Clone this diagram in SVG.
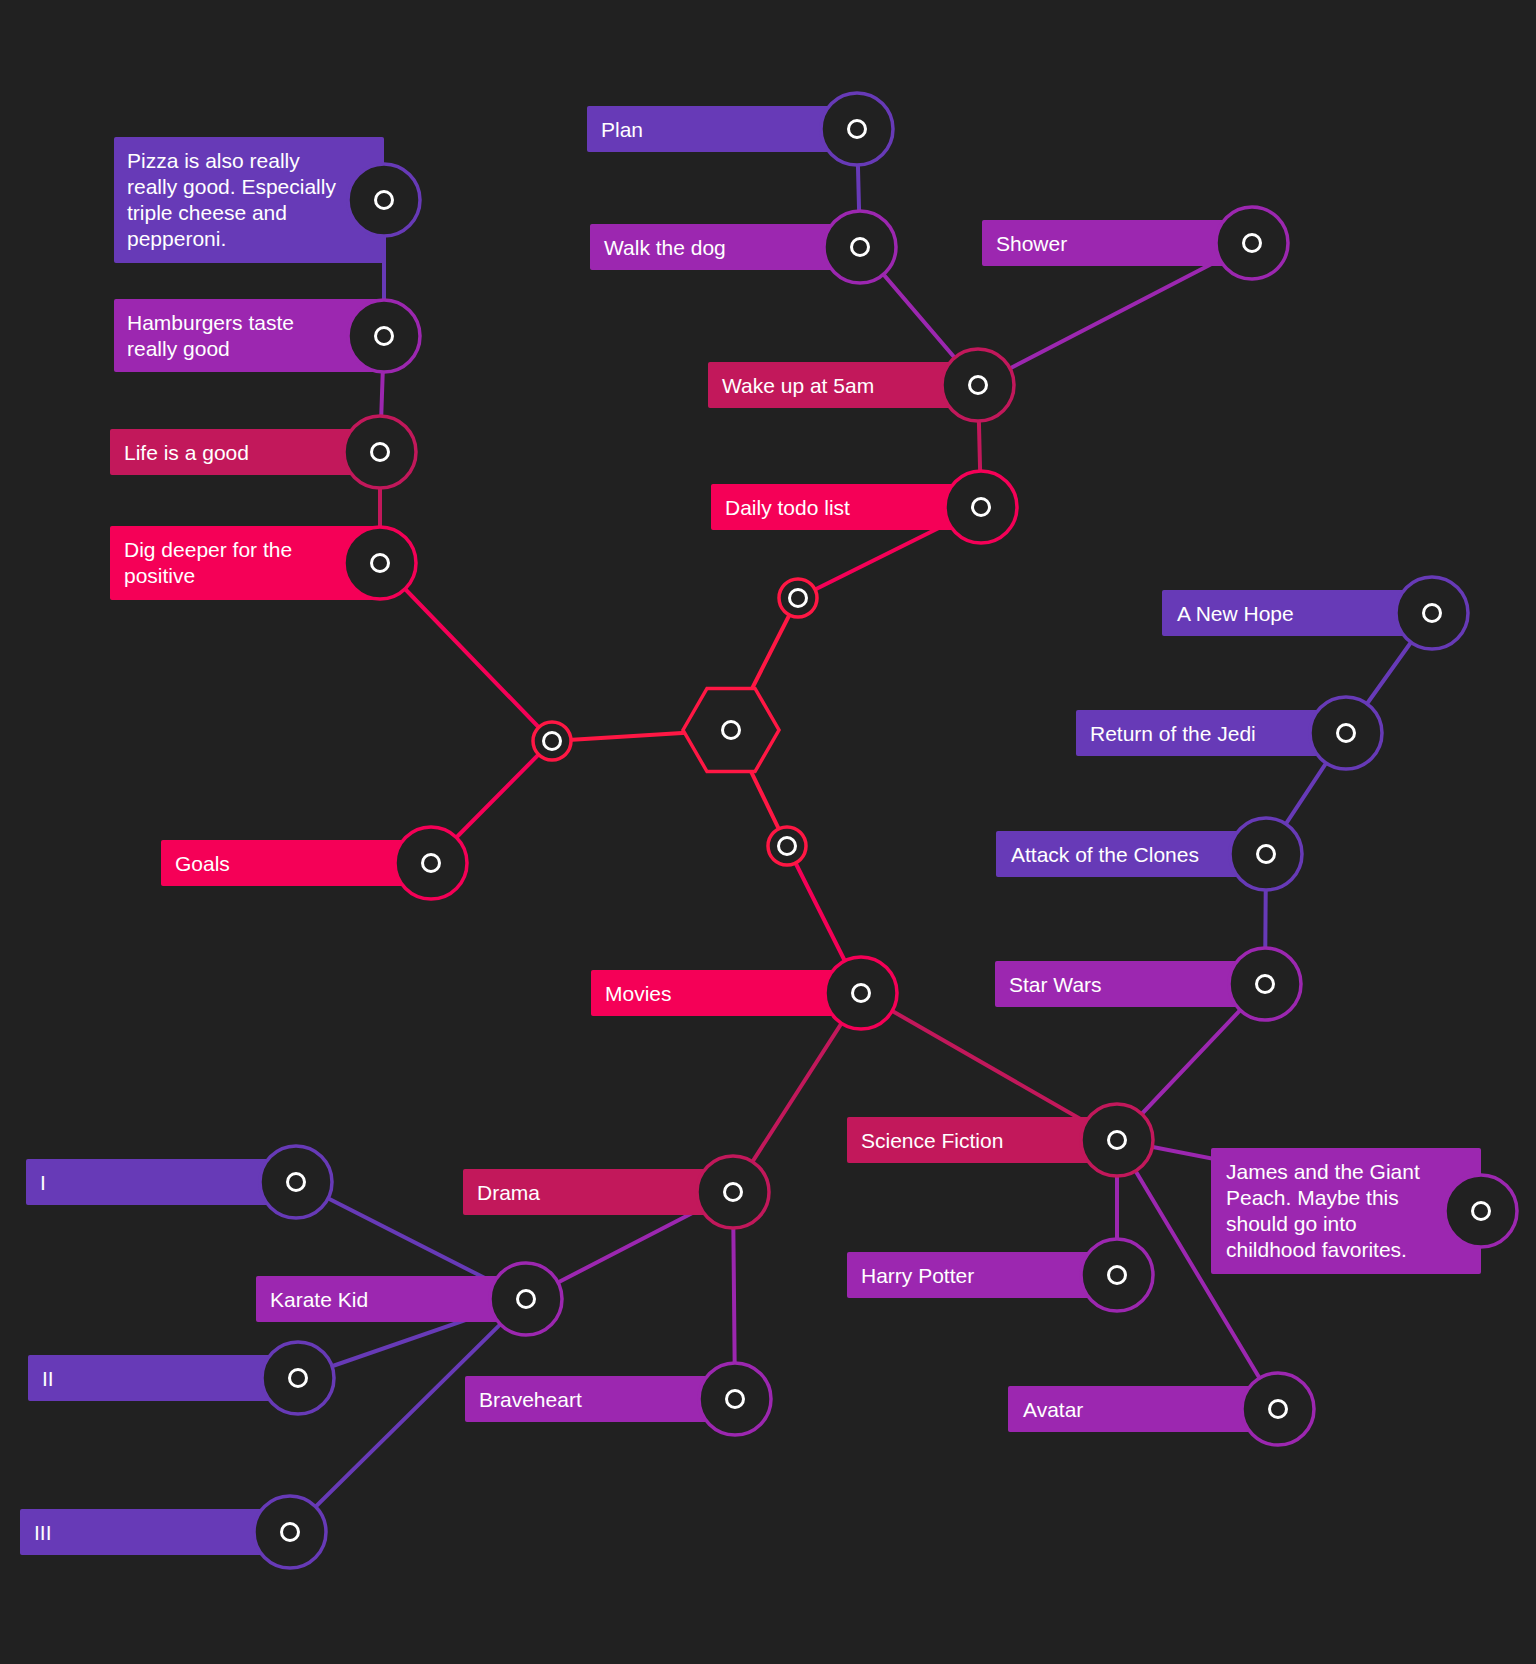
<svg xmlns="http://www.w3.org/2000/svg" width="1536" height="1664" viewBox="0 0 1536 1664">
<style>
.bg{fill:#212121}
.ln{stroke-width:4;fill:none;stroke-linecap:round}
.dp{stroke:#673AB7}.pu{stroke:#9C27B0}.dk{stroke:#C2185B}.pk{stroke:#F50057}.rd{stroke:#FF1744}
.rdp{fill:#673AB7}.rpu{fill:#9C27B0}.rdk{fill:#C2185B}.rpk{fill:#F50057}
.ring{fill:#212121;stroke-width:3.5}
.dot{fill:none;stroke:#FFFFFF;stroke-width:3}
.t{font-family:"Liberation Sans",Arial,Helvetica,sans-serif;font-size:21px;fill:#FFFFFF}
</style>
<rect class="bg" x="0" y="0" width="1536" height="1664"/>
<g id="connectors">
<line class="ln dp" x1="857" y1="129" x2="860" y2="247"/>
<line class="ln pu" x1="860" y1="247" x2="978" y2="385"/>
<line class="ln pu" x1="1252" y1="243" x2="978" y2="385"/>
<line class="ln dk" x1="978" y1="385" x2="981" y2="507"/>
<line class="ln pk" x1="981" y1="507" x2="798" y2="598"/>
<line class="ln rd" x1="798" y1="598" x2="731" y2="730"/>
<line class="ln dp" x1="384" y1="200" x2="384" y2="336"/>
<line class="ln pu" x1="384" y1="336" x2="380" y2="452"/>
<line class="ln dk" x1="380" y1="452" x2="380" y2="563"/>
<line class="ln pk" x1="380" y1="563" x2="552" y2="741"/>
<line class="ln pk" x1="431" y1="863" x2="552" y2="741"/>
<line class="ln rd" x1="552" y1="741" x2="731" y2="730"/>
<line class="ln rd" x1="731" y1="730" x2="787" y2="846"/>
<line class="ln pk" x1="787" y1="846" x2="861" y2="993"/>
<line class="ln dk" x1="861" y1="993" x2="1117" y2="1140"/>
<line class="ln dk" x1="861" y1="993" x2="733" y2="1192"/>
<line class="ln dp" x1="1432" y1="613" x2="1346" y2="733"/>
<line class="ln dp" x1="1346" y1="733" x2="1266" y2="854"/>
<line class="ln dp" x1="1266" y1="854" x2="1265" y2="984"/>
<line class="ln pu" x1="1265" y1="984" x2="1117" y2="1140"/>
<line class="ln pu" x1="1117" y1="1140" x2="1481" y2="1211"/>
<line class="ln pu" x1="1117" y1="1140" x2="1117" y2="1275"/>
<line class="ln pu" x1="1117" y1="1140" x2="1278" y2="1409"/>
<line class="ln pu" x1="733" y1="1192" x2="526" y2="1299"/>
<line class="ln pu" x1="733" y1="1192" x2="735" y2="1399"/>
<line class="ln dp" x1="526" y1="1299" x2="296" y2="1182"/>
<line class="ln dp" x1="526" y1="1299" x2="298" y2="1378"/>
<line class="ln dp" x1="526" y1="1299" x2="290" y2="1532"/>
</g>
<g id="hub">
<polygon points="683,730 707,688.4 755,688.4 779,730 755,771.6 707,771.6" fill="#212121" stroke="#FF1744" stroke-width="3.5"/>
<circle class="dot" cx="731" cy="730" r="8.5"/>
</g>
<g id="junction-up"><circle class="ring rd" cx="798" cy="598" r="19"/><circle class="dot" cx="798" cy="598" r="8.5"/></g>
<g id="junction-left"><circle class="ring rd" cx="552" cy="741" r="19"/><circle class="dot" cx="552" cy="741" r="8.5"/></g>
<g id="junction-down"><circle class="ring rd" cx="787" cy="846" r="19"/><circle class="dot" cx="787" cy="846" r="8.5"/></g>

<g id="plan"><rect class="rdp" x="587" y="106" width="270" height="46" rx="2"/><circle class="ring dp" cx="857" cy="129" r="36"/><circle class="dot" cx="857" cy="129" r="8.5"/><text class="t" x="601" y="136.5">Plan</text></g>
<g id="walk"><rect class="rpu" x="590" y="224" width="270" height="46" rx="2"/><circle class="ring pu" cx="860" cy="247" r="36"/><circle class="dot" cx="860" cy="247" r="8.5"/><text class="t" x="604" y="254.5">Walk the dog</text></g>
<g id="shower"><rect class="rpu" x="982" y="220" width="270" height="46" rx="2"/><circle class="ring pu" cx="1252" cy="243" r="36"/><circle class="dot" cx="1252" cy="243" r="8.5"/><text class="t" x="996" y="250.5">Shower</text></g>
<g id="wake"><rect class="rdk" x="708" y="362" width="270" height="46" rx="2"/><circle class="ring dk" cx="978" cy="385" r="36"/><circle class="dot" cx="978" cy="385" r="8.5"/><text class="t" x="722" y="392.5">Wake up at 5am</text></g>
<g id="daily"><rect class="rpk" x="711" y="484" width="270" height="46" rx="2"/><circle class="ring pk" cx="981" cy="507" r="36"/><circle class="dot" cx="981" cy="507" r="8.5"/><text class="t" x="725" y="514.5">Daily todo list</text></g>

<g id="pizza"><rect class="rdp" x="114" y="137" width="270" height="126" rx="2"/><circle class="ring dp" cx="384" cy="200" r="36"/><circle class="dot" cx="384" cy="200" r="8.5"/><text class="t" x="127"><tspan x="127" y="168">Pizza is also really</tspan><tspan x="127" y="194">really good. Especially</tspan><tspan x="127" y="220">triple cheese and</tspan><tspan x="127" y="246">pepperoni.</tspan></text></g>
<g id="hamburgers"><rect class="rpu" x="114" y="299" width="270" height="73" rx="2"/><circle class="ring pu" cx="384" cy="336" r="36"/><circle class="dot" cx="384" cy="336" r="8.5"/><text class="t"><tspan x="127" y="329.5">Hamburgers taste</tspan><tspan x="127" y="355.5">really good</tspan></text></g>
<g id="life"><rect class="rdk" x="110" y="429" width="270" height="46" rx="2"/><circle class="ring dk" cx="380" cy="452" r="36"/><circle class="dot" cx="380" cy="452" r="8.5"/><text class="t" x="124" y="459.5">Life is a good</text></g>
<g id="dig"><rect class="rpk" x="110" y="526" width="270" height="74" rx="2"/><circle class="ring pk" cx="380" cy="563" r="36"/><circle class="dot" cx="380" cy="563" r="8.5"/><text class="t"><tspan x="124" y="557">Dig deeper for the</tspan><tspan x="124" y="583">positive</tspan></text></g>
<g id="goals"><rect class="rpk" x="161" y="840" width="270" height="46" rx="2"/><circle class="ring pk" cx="431" cy="863" r="36"/><circle class="dot" cx="431" cy="863" r="8.5"/><text class="t" x="175" y="870.5">Goals</text></g>

<g id="new-hope"><rect class="rdp" x="1162" y="590" width="270" height="46" rx="2"/><circle class="ring dp" cx="1432" cy="613" r="36"/><circle class="dot" cx="1432" cy="613" r="8.5"/><text class="t" x="1177" y="620.5">A New Hope</text></g>
<g id="jedi"><rect class="rdp" x="1076" y="710" width="270" height="46" rx="2"/><circle class="ring dp" cx="1346" cy="733" r="36"/><circle class="dot" cx="1346" cy="733" r="8.5"/><text class="t" x="1090" y="740.5">Return of the Jedi</text></g>
<g id="clones"><rect class="rdp" x="996" y="831" width="270" height="46" rx="2"/><circle class="ring dp" cx="1266" cy="854" r="36"/><circle class="dot" cx="1266" cy="854" r="8.5"/><text class="t" x="1011" y="861.5">Attack of the Clones</text></g>
<g id="star-wars"><rect class="rpu" x="995" y="961" width="270" height="46" rx="2"/><circle class="ring pu" cx="1265" cy="984" r="36"/><circle class="dot" cx="1265" cy="984" r="8.5"/><text class="t" x="1009" y="991.5">Star Wars</text></g>

<g id="movies"><rect class="rpk" x="591" y="970" width="270" height="46" rx="2"/><circle class="ring pk" cx="861" cy="993" r="36"/><circle class="dot" cx="861" cy="993" r="8.5"/><text class="t" x="605" y="1000.5">Movies</text></g>
<g id="scifi"><rect class="rdk" x="847" y="1117" width="270" height="46" rx="2"/><circle class="ring dk" cx="1117" cy="1140" r="36"/><circle class="dot" cx="1117" cy="1140" r="8.5"/><text class="t" x="861" y="1147.5">Science Fiction</text></g>
<g id="james"><rect class="rpu" x="1211" y="1148" width="270" height="126" rx="2"/><circle class="ring pu" cx="1481" cy="1211" r="36"/><circle class="dot" cx="1481" cy="1211" r="8.5"/><text class="t"><tspan x="1226" y="1179">James and the Giant</tspan><tspan x="1226" y="1205">Peach. Maybe this</tspan><tspan x="1226" y="1231">should go into</tspan><tspan x="1226" y="1257">childhood favorites.</tspan></text></g>
<g id="harry"><rect class="rpu" x="847" y="1252" width="270" height="46" rx="2"/><circle class="ring pu" cx="1117" cy="1275" r="36"/><circle class="dot" cx="1117" cy="1275" r="8.5"/><text class="t" x="861" y="1282.5">Harry Potter</text></g>
<g id="avatar"><rect class="rpu" x="1008" y="1386" width="270" height="46" rx="2"/><circle class="ring pu" cx="1278" cy="1409" r="36"/><circle class="dot" cx="1278" cy="1409" r="8.5"/><text class="t" x="1023" y="1416.5">Avatar</text></g>

<g id="drama"><rect class="rdk" x="463" y="1169" width="270" height="46" rx="2"/><circle class="ring dk" cx="733" cy="1192" r="36"/><circle class="dot" cx="733" cy="1192" r="8.5"/><text class="t" x="477" y="1199.5">Drama</text></g>
<g id="braveheart"><rect class="rpu" x="465" y="1376" width="270" height="46" rx="2"/><circle class="ring pu" cx="735" cy="1399" r="36"/><circle class="dot" cx="735" cy="1399" r="8.5"/><text class="t" x="479" y="1406.5">Braveheart</text></g>
<g id="karate"><rect class="rpu" x="256" y="1276" width="270" height="46" rx="2"/><circle class="ring pu" cx="526" cy="1299" r="36"/><circle class="dot" cx="526" cy="1299" r="8.5"/><text class="t" x="270" y="1306.5">Karate Kid</text></g>
<g id="k1"><rect class="rdp" x="26" y="1159" width="270" height="46" rx="2"/><circle class="ring dp" cx="296" cy="1182" r="36"/><circle class="dot" cx="296" cy="1182" r="8.5"/><text class="t" x="40" y="1189.5">I</text></g>
<g id="k2"><rect class="rdp" x="28" y="1355" width="270" height="46" rx="2"/><circle class="ring dp" cx="298" cy="1378" r="36"/><circle class="dot" cx="298" cy="1378" r="8.5"/><text class="t" x="42" y="1385.5">II</text></g>
<g id="k3"><rect class="rdp" x="20" y="1509" width="270" height="46" rx="2"/><circle class="ring dp" cx="290" cy="1532" r="36"/><circle class="dot" cx="290" cy="1532" r="8.5"/><text class="t" x="34" y="1539.5">III</text></g>
</svg>
